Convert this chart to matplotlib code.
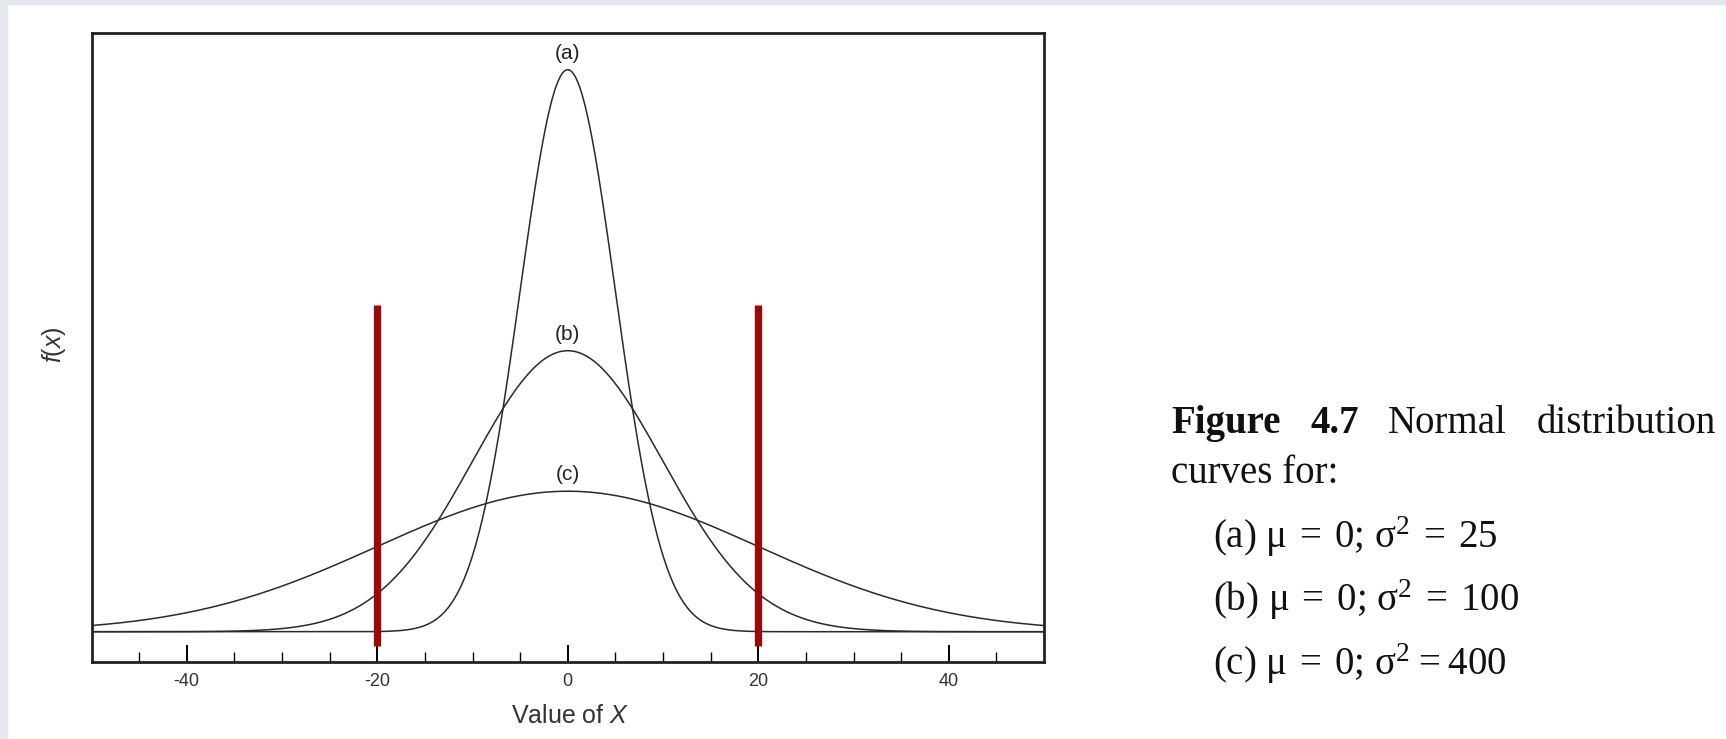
"""Normal distribution curves, Figure 4.7 style."""
import numpy as np
import matplotlib
matplotlib.use("Agg")
import matplotlib.pyplot as plt
from matplotlib.patches import Rectangle

# curve parameters (mean, variance) and labels
labels = ["(a)", "(b)", "(c)"]
means = [0, 0, 0]
variances = [25, 100, 400]
# red marker lines
red_x = [-20, 20]
red_span = [-0.0020, 0.0464]
major_ticks = [-40, -20, 0, 20, 40]
sp, th = "\u2004", "\u2009"
caption_items = [f"(a) μ{sp}={sp}0; $\\mathregular{{σ^2}}${sp}={sp}25",
                 f"(b) μ{sp}={sp}0; $\\mathregular{{σ^2}}${sp}={sp}100",
                 f"(c) μ{sp}={sp}0; $\\mathregular{{σ^2}}${th}={th}400"]
title_words = ["Figure", "4.7", "Normal", "distribution"]
title_weights = ["bold", "bold", "normal", "normal"]

plt.rcParams["axes.unicode_minus"] = False
plt.rcParams["mathtext.fontset"] = "custom"
plt.rcParams["mathtext.it"] = "Liberation Sans:italic"
plt.rcParams["mathtext.rm"] = "Liberation Sans"

W, H = 1726, 739
fig = plt.figure(figsize=(W / 100, H / 100), dpi=100)
fig.patch.set_facecolor("white")
band = "#e4e7ee"
fig.patches.append(Rectangle((0, 1 - 4 / H), 1, 4 / H, transform=fig.transFigure,
                             color=band, zorder=0))
fig.patches.append(Rectangle((0, 0), 7 / W, 1, transform=fig.transFigure,
                             color=band, zorder=0))


def px(x, y):
    return x / W, 1 - y / H


ax = fig.add_axes([91.5 / W, 77 / H, (1044 - 91.5) / W, (662 - 33) / H])
sans = ["Liberation Sans", "DejaVu Sans"]

xs = np.linspace(-50, 50, 1201)
for lab, mu, var in zip(labels, means, variances):
    sd = np.sqrt(var)
    ys = np.exp(-(xs - mu) ** 2 / (2 * var)) / (sd * np.sqrt(2 * np.pi))
    ax.plot(xs, ys, color="#2a2a2a", lw=1.1, zorder=2)
    peak = 1 / (sd * np.sqrt(2 * np.pi))
    ax.annotate(lab, (mu, peak), xytext=(0, 12), textcoords="offset points",
                ha="center", va="center", fontsize=15, family=sans, color="#222")

for xr in red_x:
    ax.vlines(xr, red_span[0], red_span[1], color="#990a0a", lw=5.3, zorder=3)

ax.set_xlim(-50, 50)
ax.set_ylim(-0.0043, 0.0850)
ax.set_xticks(major_ticks)
ax.set_xticks([v for v in range(-45, 50, 5) if v not in major_ticks], minor=True)
ax.tick_params(axis="x", which="major", direction="in", length=12, width=1.4,
               pad=8, labelsize=13, colors="black")
ax.tick_params(axis="x", which="minor", direction="in", length=7, width=1.0)
for t in ax.get_xticklabels():
    t.set_family(sans)
    t.set_color("#333")
ax.set_yticks([])
for s in ax.spines.values():
    s.set_linewidth(2.0)
    s.set_color("#222")

fig.text(*px(54, 345), "$\\mathit{f(x)}$", rotation=90, ha="center", va="center",
         fontsize=18, family=sans, color="#333")
fig.text(*px(570, 716), "Value of $\\mathit{X}$", ha="center", va="center",
         fontsize=18, family=sans, color="#333")

# caption, first line justified between left and right edge
serif = ["Liberation Serif", "DejaVu Serif"]
cap_fs = 28
left, right = 1171, 1716
words = [fig.text(0, 0, w, fontsize=cap_fs, family=serif, weight=wt,
                  va="baseline", color="#111")
         for w, wt in zip(title_words, title_weights)]
renderer = fig.canvas.get_renderer()
widths = [t.get_window_extent(renderer).width for t in words]
gap = (right - left - sum(widths)) / (len(words) - 1)
xpos = left
for t, wd in zip(words, widths):
    t.set_position(px(xpos, 433))
    xpos += wd + gap

fig.text(*px(left, 483), "curves for:", fontsize=cap_fs, family=serif,
         va="baseline", color="#111")
for i, item in enumerate(caption_items):
    fig.text(*px(1213, 548 + 63.5 * i), item, fontsize=cap_fs, family=serif,
             va="baseline", color="#111")

fig.savefig("out.png", dpi=100)
